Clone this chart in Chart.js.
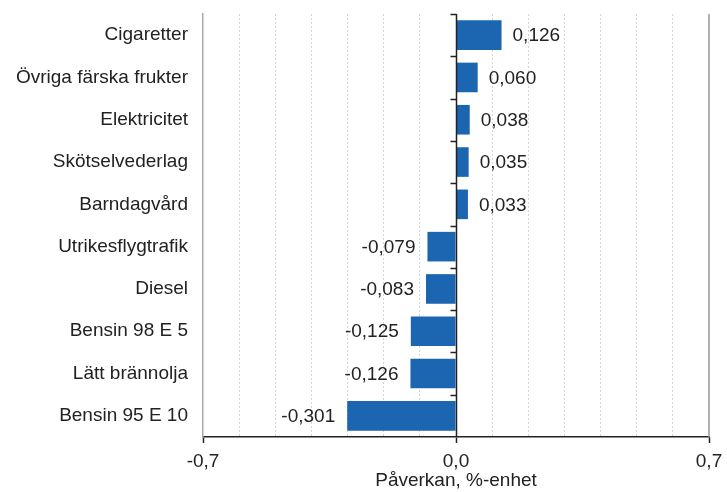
<!DOCTYPE html>
<html>
<head>
<meta charset="utf-8">
<script src="https://cdn.jsdelivr.net/npm/chart.js@4/dist/chart.umd.min.js"></script>
<style>
  html, body { margin: 0; padding: 0; background: #fff; }
  #wrap { width: 727px; height: 492px; }
</style>
</head>
<body>
<div id="wrap"><canvas id="chart"></canvas></div>
<script>
const CATEGORIES = [
  'Cigaretter', 'Övriga färska frukter', 'Elektricitet', 'Skötselvederlag', 'Barndagvård',
  'Utrikesflygtrafik', 'Diesel', 'Bensin 98 E 5', 'Lätt brännolja', 'Bensin 95 E 10',
];
const VALUES = [0.126, 0.060, 0.038, 0.035, 0.033, -0.079, -0.083, -0.125, -0.126, -0.301];
const X_LABELS = [-0.7, 0, 0.7];
const X_TITLE = 'Påverkan, %-enhet';

const BAR_COLOR = '#1c65b0';
const TEXT_COLOR = '#222';
const FONT = { family: '"Liberation Sans", Arial, sans-serif', size: 19 };

const fmt = v => v.toFixed(3).replace('.', ',');
const tenth = v => Math.round(v * 10);

// solid lines at 0 and the right edge, plus category ticks on the zero line
const frameLines = {
  id: 'frameLines',
  beforeDatasetsDraw(chart) {
    const { ctx, chartArea: a, scales: { x } } = chart;
    ctx.save();
    ctx.strokeStyle = '#999';
    ctx.lineWidth = 1.5;
    ctx.beginPath();
    ctx.moveTo(x.getPixelForValue(0.7), a.top);
    ctx.lineTo(x.getPixelForValue(0.7), a.bottom);
    ctx.stroke();
    ctx.restore();
  },
  afterDatasetsDraw(chart) {
    const { ctx, chartArea: a, scales: { x } } = chart;
    const zx = Math.round(x.getPixelForValue(0)) + 0.5;
    ctx.save();
    ctx.strokeStyle = '#222';
    ctx.lineWidth = 1.5;
    ctx.beginPath();
    ctx.moveTo(zx, a.top);
    ctx.lineTo(zx, a.bottom);
    const step = (a.bottom - a.top) / CATEGORIES.length;
    for (let i = 0; i < CATEGORIES.length; i++) {
      const ty = Math.round(a.top + i * step) + 0.5;
      ctx.moveTo(zx - 6, ty);
      ctx.lineTo(zx, ty);
    }
    ctx.stroke();
    ctx.restore();
  },
};

const valueLabels = {
  id: 'valueLabels',
  afterDatasetsDraw(chart) {
    const { ctx } = chart;
    const meta = chart.getDatasetMeta(0);
    ctx.save();
    ctx.font = `${FONT.size}px ${FONT.family}`;
    ctx.fillStyle = TEXT_COLOR;
    ctx.textBaseline = 'middle';
    meta.data.forEach((bar, i) => {
      const v = VALUES[i];
      if (v >= 0) {
        ctx.textAlign = 'left';
        ctx.fillText(fmt(v), bar.x + 11, bar.y + 1);
      } else {
        ctx.textAlign = 'right';
        ctx.fillText(fmt(v), bar.x - 12, bar.y + 1);
      }
    });
    ctx.restore();
  },
};

new Chart(document.getElementById('chart'), {
  type: 'bar',
  data: {
    labels: CATEGORIES,
    datasets: [{
      data: VALUES,
      backgroundColor: BAR_COLOR,
      borderWidth: 0,
      categoryPercentage: 1,
      barPercentage: 0.7,
    }],
  },
  options: {
    indexAxis: 'y',
    responsive: true,
    maintainAspectRatio: false,
    animation: false,
    layout: { padding: { top: 14, right: 18, left: 0, bottom: 0 } },
    plugins: { legend: { display: false }, tooltip: { enabled: false } },
    scales: {
      x: {
        min: -0.7,
        max: 0.7,
        afterFit: s => { s.height = 55; s.paddingLeft = 0; s.paddingRight = 0; },
        ticks: {
          stepSize: 0.1,
          autoSkip: false,
          maxRotation: 0,
          padding: 7,
          color: TEXT_COLOR,
          font: FONT,
          callback: v => X_LABELS.some(l => tenth(l) === tenth(v)) ? (tenth(v) / 10).toFixed(1).replace('.', ',') : '',
        },
        grid: {
          color: c => [-7, 0, 7].includes(tenth(c.tick.value)) ? 'rgba(0,0,0,0)' : '#d4d4d4',
          tickColor: c => [-7, 0, 7].includes(tenth(c.tick.value)) ? '#222' : 'rgba(0,0,0,0)',
          tickLength: 6,
          tickWidth: 1.5,
          lineWidth: 1,
        },
        border: { display: true, color: '#222', width: 1.5, dash: [2, 2] },
        title: {
          display: true,
          text: X_TITLE,
          color: TEXT_COLOR,
          font: FONT,
          padding: { top: -9, bottom: 0 },
        },
      },
      y: {
        afterFit: s => { s.width = 203; s.paddingTop = 0; s.paddingBottom = 0; },
        ticks: { color: TEXT_COLOR, font: FONT, padding: 7 },
        grid: { display: false },
        border: { display: true, color: '#aaa', width: 1.5 },
      },
    },
  },
  plugins: [frameLines, valueLabels],
});
</script>
</body>
</html>
